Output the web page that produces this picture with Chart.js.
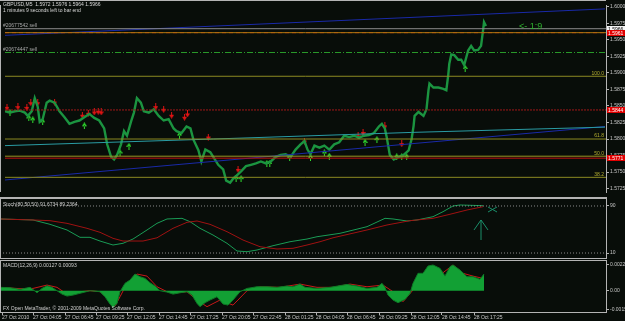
<!DOCTYPE html>
<html>
<head>
<meta charset="utf-8">
<title>GBPUSD,M5</title>
<script src="https://cdn.jsdelivr.net/npm/chart.js@4.4.1/dist/chart.umd.min.js"></script>
<style>
  html, body { margin: 0; padding: 0; background: #080d09; overflow: hidden; }
  #wrap { position: relative; width: 625px; height: 321px; }
  canvas { position: absolute; left: 0; }
  .sep { position: absolute; left: 0; width: 607px; background: #b4b4b4; }
</style>
</head>
<body>
<div id="wrap">
  <canvas id="priceChart" width="625" height="197" style="top:0"></canvas>
  <div class="sep" style="top:197px;height:2px"></div>
  <canvas id="stochChart" width="625" height="59" style="top:199px"></canvas>
  <div class="sep" style="top:258px;height:1px"></div>
  <div class="sep" style="top:260px;height:1px"></div>
  <canvas id="macdChart" width="625" height="60" style="top:261px"></canvas>
</div>
<script>
// axe du temps (index de barre M5)
const timeTicks = [2, 33, 65, 96, 127, 159, 190, 222, 253, 285, 316, 347, 379, 411, 442, 474];
const timeLabels = ['27 Oct 2010', '27 Oct 04:05', '27 Oct 06:45', '27 Oct 09:25', '27 Oct 12:05',
  '27 Oct 14:45', '27 Oct 17:25', '27 Oct 20:05', '27 Oct 22:45', '28 Oct 01:25', '28 Oct 04:05',
  '28 Oct 06:45', '28 Oct 09:25', '28 Oct 12:05', '28 Oct 14:45', '28 Oct 17:25'];

// prix
const priceTicks = [1.6000, 1.5975, 1.5950, 1.5925, 1.5900, 1.5875, 1.5850, 1.5825, 1.5800, 1.5775, 1.5750, 1.5725];
const priceX = [0, 5, 10, 15, 20, 23, 27, 30, 33, 35, 38, 42, 45, 50, 55, 60, 65, 70, 75, 80, 85, 90, 95, 100,
  103, 107, 110, 113, 117, 120, 123, 127, 130, 133, 137, 140, 145, 150, 155, 160, 165, 170, 173, 178, 183, 187,
  190, 195, 198, 202, 207, 210, 215, 220, 223, 227, 230, 233, 238, 243, 248, 253, 258, 263, 268, 273, 278, 283,
  288, 293, 298, 302, 305, 308, 312, 317, 322, 327, 332, 337, 342, 347, 352, 357, 362, 367, 372, 377, 380, 383,
  385, 388, 392, 397, 402, 407, 410, 412, 413, 417, 422, 425, 427, 428, 432, 437, 442, 445, 447, 448, 450, 453,
  457, 460, 463, 467, 470, 473, 477, 480, 482, 483, 485];
const priceClose = [1.5842, 1.5840, 1.5842, 1.5843, 1.5840, 1.5835, 1.5842, 1.5862, 1.5849, 1.5826, 1.5830,
  1.5855, 1.5858, 1.5855, 1.5842, 1.5833, 1.5823, 1.5826, 1.5828, 1.5833, 1.5838, 1.5832, 1.5828, 1.5816,
  1.5792, 1.5773, 1.5769, 1.5776, 1.5792, 1.5812, 1.5805, 1.5826, 1.5840, 1.5862, 1.5855, 1.5842, 1.5840,
  1.5845, 1.5835, 1.5828, 1.5830, 1.5816, 1.5812, 1.5809, 1.5819, 1.5816, 1.5799, 1.5783, 1.5766, 1.5784,
  1.5780, 1.5773, 1.5761, 1.5754, 1.5737, 1.5734, 1.5740, 1.5744, 1.5751, 1.5759, 1.5761, 1.5763, 1.5766,
  1.5763, 1.5766, 1.5773, 1.5776, 1.5777, 1.5773, 1.5784, 1.5792, 1.5797, 1.5784, 1.5777, 1.5790, 1.5787,
  1.5790, 1.5784, 1.5792, 1.5795, 1.5805, 1.5803, 1.5805, 1.5802, 1.5805, 1.5806, 1.5809, 1.5819, 1.5823,
  1.5816, 1.5802, 1.5776, 1.5769, 1.5773, 1.5776, 1.5783, 1.5800, 1.5820, 1.5835, 1.5841, 1.5835, 1.5845,
  1.5874, 1.5884, 1.5878, 1.5878, 1.5876, 1.5874, 1.5898, 1.5914, 1.5928, 1.5927, 1.5920, 1.5920, 1.5912,
  1.5934, 1.5941, 1.5934, 1.5935, 1.5941, 1.5964, 1.5977, 1.5971];

// fractales
const redArrowX = [2, 13, 22, 26, 33, 50, 78, 84, 90, 94, 97, 152, 160, 168, 181, 184, 205, 235, 302, 356, 361, 383, 400];
const redArrowY = [1.5848, 1.5849, 1.5848, 1.5855, 1.5855, 1.5856, 1.5836, 1.5839, 1.5841, 1.5842, 1.5841,
  1.5849, 1.5845, 1.5836, 1.5833, 1.5838, 1.5803, 1.5754, 1.5797, 1.5805, 1.5810, 1.5820, 1.5793];
const greenArrowX = [5, 24, 28, 38, 80, 116, 125, 176, 233, 238, 264, 267, 287, 308, 322, 327, 363, 375, 395, 400, 405, 464];
const greenArrowY = [1.5840, 1.5832, 1.5829, 1.5826, 1.5820, 1.5779, 1.5789, 1.5806, 1.5740, 1.5740, 1.5763,
  1.5763, 1.5772, 1.5772, 1.5779, 1.5774, 1.5795, 1.5799, 1.5773, 1.5773, 1.5773, 1.5907];

// niveaux
const sellOrders = [1.5967, 1.5931];
const sellLabels = ['#20677542 sell', '#20674447 sell'];
const bidLevel = 1.5961;
const redLevels = [1.5844, 1.5771];
const fibLevels = [1.5895, 1.5800, 1.5774, 1.5742];
const fibLabels = ['100.0', '61.8', '50.0', '38.2'];
const boxPrices = [1.5966, 1.5961, 1.5844, 1.5771];
const boxLabels = ['1.5966', '1.5961', '1.5844', '1.5771'];
const upperX = [0, 605], upperY = [1.5957, 1.5997];
const lowerX = [0, 605], lowerY = [1.5738, 1.5819];
const cyanX = [0, 210, 410, 605], cyanY = [1.5790, 1.5800, 1.5810, 1.5818];

// stochastique
const stochX = [0, 33, 50, 67, 80, 90, 100, 113, 123, 133, 147, 157, 167, 182, 190, 200, 213, 227, 237, 247, 257,
  273, 290, 307, 317, 340, 367, 385, 393, 407, 417, 433, 443, 453, 460, 483];
const stochMain = [67.9, 66.2, 58.8, 49.2, 36.7, 36.7, 30.4, 23.6, 26.5, 33.8, 49.2, 60.5, 67.9, 69.0, 63.3, 52.0,
  40.6, 26.5, 13.4, 12.2, 15.1, 22.4, 29.2, 33.8, 37.7, 43.5, 54.8, 69.0, 67.9, 64.5, 66.2, 71.8, 80.3, 90.0, 91.7, 90.5];
const signalX = [0, 33, 50, 67, 87, 100, 113, 123, 143, 157, 173, 187, 197, 210, 227, 243, 260, 277, 293, 307,
  320, 333, 367, 387, 410, 433, 450, 467, 483];
const stochSignal = [67.9, 66.2, 65.0, 60.5, 52.0, 45.2, 35.0, 30.4, 30.4, 35.9, 52.0, 62.2, 64.5, 58.8, 46.3,
  32.1, 20.7, 16.8, 18.0, 23.6, 29.2, 35.9, 49.2, 57.7, 65.0, 69.0, 75.9, 83.2, 88.8];
const stochLevels = [90, 10];
const markShaftX = [481, 481], markShaftY = [32.1, 66.2];
const markHeadX = [474, 481, 488], markHeadY = [49.2, 66.2, 49.2];
const markCrossX = [488, 497], markCrossA = [88.3, 79.8], markCrossB = [79.8, 88.3];

// MACD
const macdX = [0, 10, 20, 30, 33, 37, 42, 47, 52, 57, 62, 67, 73, 82, 90, 100, 105, 110, 113, 117, 120, 125, 130,
  135, 140, 145, 150, 155, 160, 167, 173, 180, 187, 192, 197, 200, 205, 210, 217, 223, 228, 233, 240, 247, 257,
  267, 277, 287, 293, 300, 305, 317, 330, 347, 357, 367, 377, 382, 385, 388, 393, 398, 405, 410, 413, 418, 423,
  428, 433, 440, 445, 450, 453, 460, 467, 473, 480, 484];
const macdHist = [0.00028, 0.00025, 0.00011, 0.00028, 0.00010, -0.00017, 0.00019, 0.00041, 0.00028, 0,
  -0.00028, -0.00044, -0.00036, -0.00017, 0, -0.00008, -0.00050, -0.00110, -0.00138, -0.00105,
  -0.00008, 0.00061, 0.00088, 0.00138, 0.00116, 0.00102, 0.00066, 0.00039, 0, -0.00011,
  -0.00028, -0.00017, -0.00008, -0.00036, -0.00105, -0.00132, -0.00099, -0.00077, -0.00050, -0.00110,
  -0.00119, -0.00077, -0.00008, 0.00019, 0.00033, 0.00033, 0.00028, 0.00039, 0.00033, 0.00055,
  0.00028, 0.00019, 0.00028, 0.00052, 0.00039, 0.00019, 0.00028, 0.00061, 0.00028, -0.00036,
  -0.00077, -0.00099, -0.00072, -0.00022, 0.00061, 0.00144, 0.00144, 0.00204, 0.00213, 0.00185,
  0.00121, 0.00199, 0.00213, 0.00171, 0.00116, 0.00116, 0.00094, 0.00138];
const macdSigX = [0, 20, 33, 47, 57, 67, 80, 90, 100, 110, 115, 120, 127, 137, 147, 157, 167, 177, 187, 197,
  207, 220, 233, 247, 260, 280, 300, 317, 333, 350, 367, 383, 393, 403, 413, 423, 432, 443, 453, 463, 473, 483];
const macdSignal = [0.00028, 0.00017, 0.00019, 0.00047, 0.00028, -0.00028, -0.00008, 0, -0.00008, -0.00077,
  -0.00127, -0.00050, 0.00061, 0.00138, 0.00121, 0.00033, -0.00008, -0.00017, -0.00008, -0.00077,
  -0.00132, -0.00077, -0.00119, 0, 0.00033, 0.00028, 0.00055, 0.00028, 0.00028, 0.00055,
  0.00033, 0.00047, -0.00008, -0.00091, 0.00006, 0.00138, 0.00199, 0.00149, 0.00213, 0.00144, 0.00121, 0.00102];
const macdTicks = [0.0022, 0, -0.00154];
const macdTickLabels = ['0.0022', '0.00', '-0.00154'];

const FONT = 'Liberation Sans';
const AXIS = '#b4b4b4';
const LABEL = '#c8c8c8';
const X_MAX = 606;

const pts = (xs, ys) => xs.map((x, i) => ({ x, y: ys[i] }));
const hline = (level, color, dash, width) => ({
  data: [{ x: 0, y: level }, { x: X_MAX, y: level }],
  borderColor: color, borderWidth: width || 1, borderDash: dash || [], pointRadius: 0,
});

// petite flèche MT4 pour les fractales
function arrowIcon(color, down) {
  const c = document.createElement('canvas');
  c.width = 5; c.height = 7;
  const g = c.getContext('2d');
  g.fillStyle = color;
  g.beginPath();
  if (down) {
    g.rect(2, 0, 1, 4);
    g.moveTo(0, 3); g.lineTo(5, 3); g.lineTo(2.5, 7);
  } else {
    g.rect(2, 3, 1, 4);
    g.moveTo(0, 4); g.lineTo(5, 4); g.lineTo(2.5, 0);
  }
  g.fill();
  return c;
}

// textes posés sur le graphique
const notesPlugin = {
  id: 'notes',
  afterDatasetsDraw(chart, args, opts) {
    const ctx = chart.ctx;
    ctx.save();
    (opts.items || []).forEach((it) => {
      ctx.font = (it.size || 5) + 'px "' + FONT + '"';
      ctx.fillStyle = it.color || LABEL;
      ctx.textAlign = it.align || 'left';
      ctx.textBaseline = 'middle';
      const y = it.price !== undefined ? chart.scales.y.getPixelForValue(it.price) + it.dy : it.y;
      ctx.fillText(it.text, it.x, y);
    });
    // étiquettes de prix sur l'axe
    (opts.boxes || []).forEach((b) => {
      const y = Math.round(chart.scales.y.getPixelForValue(b.price));
      ctx.fillStyle = b.fill;
      ctx.fillRect(607, y - 3, 18, 6);
      ctx.fillStyle = b.text;
      ctx.font = '5px "' + FONT + '"';
      ctx.textAlign = 'left';
      ctx.fillText(b.label, 608, y + 0.5);
    });
    // bord gauche du cadre
    ctx.fillStyle = AXIS;
    ctx.fillRect(0, chart.chartArea.top, 1, chart.chartArea.bottom - chart.chartArea.top);
    if (opts.topBorder) ctx.fillRect(0, 0, X_MAX, 1);
    ctx.restore();
  },
};

const fixAxisY = (s) => { s.width = 19; s.paddingTop = 0; s.paddingBottom = 0; };
const yTicks = (vals) => (s) => { s.ticks = vals.map((v) => ({ value: v })); };

function yAxis(min, max, tickVals, cb) {
  return {
    position: 'right', min, max,
    afterBuildTicks: yTicks(tickVals),
    afterFit: fixAxisY,
    ticks: { color: LABEL, font: { size: 5, family: FONT }, padding: 1, callback: cb },
    grid: { drawOnChartArea: false, color: AXIS, tickLength: 3 },
    border: { color: AXIS },
  };
}

const baseOptions = {
  responsive: false,
  animation: false,
  layout: { padding: 0 },
  elements: { point: { radius: 0 }, line: { tension: 0 } },
};

// ---- graphique des prix
new Chart(document.getElementById('priceChart'), {
  type: 'line',
  data: {
    datasets: [
      hline(fibLevels[0], '#8c8a22'),
      hline(fibLevels[1], '#8c8a22'),
      hline(fibLevels[2], '#9a9422'),
      hline(fibLevels[3], '#8c8a22'),
      hline(redLevels[0], '#a01818', [2, 1]),
      hline(redLevels[1], '#c01010'),
      hline(sellOrders[0], '#8a8a8a'),
      hline(sellOrders[1], '#2a9a2a', [6, 2, 1, 2]),
      hline(bidLevel, '#b07a10'),
      hline(bidLevel, '#c01a10', [4, 3]),
      { data: pts(cyanX, cyanY), borderColor: '#2a9ca4', borderWidth: 1, pointRadius: 0 },
      { data: pts(upperX, upperY), borderColor: '#1a2aa8', borderWidth: 1, pointRadius: 0 },
      { data: pts(lowerX, lowerY), borderColor: '#1a2aa8', borderWidth: 1, pointRadius: 0 },
      { data: pts(priceX, priceClose), borderColor: '#1b9440', borderWidth: 2.4, pointRadius: 0 },
      { type: 'scatter', data: pts(redArrowX, redArrowY), pointStyle: arrowIcon('#e01414', true), pointRadius: 3 },
      { type: 'scatter', data: pts(greenArrowX, greenArrowY), pointStyle: arrowIcon('#30e030', false), pointRadius: 3 },
    ],
  },
  options: {
    ...baseOptions,
    scales: {
      x: { type: 'linear', min: 0, max: X_MAX, display: false },
      y: yAxis(1.57198, 1.60029, priceTicks, (v) => v.toFixed(4)),
    },
    plugins: {
      legend: { display: false },
      tooltip: { enabled: false },
      notes: {
        topBorder: true,
        items: [
          { text: 'GBPUSD,M5  1.5972 1.5976 1.5964 1.5966', x: 3, y: 5, color: '#d8d8d8' },
          { text: '1 minutes 9 seconds left to bar end', x: 3, y: 11, color: '#d8d8d8' },
          { text: sellLabels[0], x: 3, price: sellOrders[0], dy: -3, color: '#a8a8a8' },
          { text: sellLabels[1], x: 3, price: sellOrders[1], dy: -3, color: '#a8a8a8' },
          { text: fibLabels[0], x: 604, price: fibLevels[0], dy: -3, align: 'right', color: '#b4ae30' },
          { text: fibLabels[1], x: 604, price: fibLevels[1], dy: -3, align: 'right', color: '#b4ae30' },
          { text: fibLabels[2], x: 604, price: fibLevels[2], dy: -3, align: 'right', color: '#b4ae30' },
          { text: fibLabels[3], x: 604, price: fibLevels[3], dy: -3, align: 'right', color: '#b4ae30' },
          { text: '<- 1:9', x: 519, y: 27, size: 9, color: '#2fb02f' },
        ],
        boxes: [
          { price: boxPrices[0], label: boxLabels[0], fill: '#f4f4f4', text: '#000' },
          { price: boxPrices[1], label: boxLabels[1], fill: '#e00000', text: '#fff' },
          { price: boxPrices[2], label: boxLabels[2], fill: '#e00000', text: '#fff' },
          { price: boxPrices[3], label: boxLabels[3], fill: '#e00000', text: '#fff' },
        ],
      },
    },
  },
  plugins: [notesPlugin],
});

// ---- stochastique
const teal = '#1a8f6a';
new Chart(document.getElementById('stochChart'), {
  type: 'line',
  data: {
    datasets: [
      hline(stochLevels[0], '#8a8a8a', [1, 2]),
      hline(stochLevels[1], '#8a8a8a', [1, 2]),
      { data: pts(signalX, stochSignal), borderColor: '#a01212', borderWidth: 1, pointRadius: 0 },
      { data: pts(stochX, stochMain), borderColor: '#1a9c56', borderWidth: 1, pointRadius: 0 },
      { data: pts(markShaftX, markShaftY), borderColor: teal, borderWidth: 1, pointRadius: 0 },
      { data: pts(markHeadX, markHeadY), borderColor: teal, borderWidth: 1, pointRadius: 0 },
      { data: pts(markCrossX, markCrossA), borderColor: teal, borderWidth: 1, pointRadius: 0 },
      { data: pts(markCrossX, markCrossB), borderColor: teal, borderWidth: 1, pointRadius: 0 },
    ],
  },
  options: {
    ...baseOptions,
    scales: {
      x: { type: 'linear', min: 0, max: X_MAX, display: false },
      y: yAxis(1.5, 101.9, stochLevels, (v) => String(v)),
    },
    plugins: {
      legend: { display: false },
      tooltip: { enabled: false },
      notes: {
        items: [{ text: 'Stoch(80,50,50) 91.6734 89.2364', x: 3, y: 6, color: '#d0d0d0' }],
      },
    },
  },
  plugins: [notesPlugin],
});

// ---- MACD
new Chart(document.getElementById('macdChart'), {
  type: 'line',
  data: {
    datasets: [
      { data: pts(macdX, macdHist), borderColor: '#0e7a26', backgroundColor: '#12a034', fill: 'origin',
        borderWidth: 1, pointRadius: 0 },
      { data: pts(macdSigX, macdSignal), borderColor: '#c81818', borderWidth: 1, pointRadius: 0 },
    ],
  },
  options: {
    ...baseOptions,
    scales: {
      x: {
        type: 'linear', min: 0, max: X_MAX, position: 'bottom',
        afterBuildTicks: (s) => { s.ticks = timeTicks.map((v) => ({ value: v })); },
        afterFit: (s) => { s.height = 9; s.paddingLeft = 0; s.paddingRight = 0; },
        ticks: {
          color: LABEL, font: { size: 5, family: FONT }, padding: 0, align: 'start',
          maxRotation: 0, autoSkip: false, callback: (v, i) => timeLabels[i],
        },
        grid: { drawOnChartArea: false, color: AXIS, tickLength: 3 },
        border: { color: AXIS },
      },
      y: yAxis(-0.00176, 0.00246, macdTicks, (v, i) => macdTickLabels[i]),
    },
    plugins: {
      legend: { display: false },
      tooltip: { enabled: false },
      notes: {
        items: [
          { text: 'MACD(12,26,9) 0.00127 0.00093', x: 3, y: 5, color: '#d0d0d0' },
          { text: 'FX Open MetaTrader, \u00a9 2001-2009 MetaQuotes Software Corp.', x: 3, y: 48, color: '#d0d0d0' },
        ],
      },
    },
  },
  plugins: [notesPlugin],
});
</script>
</body>
</html>
